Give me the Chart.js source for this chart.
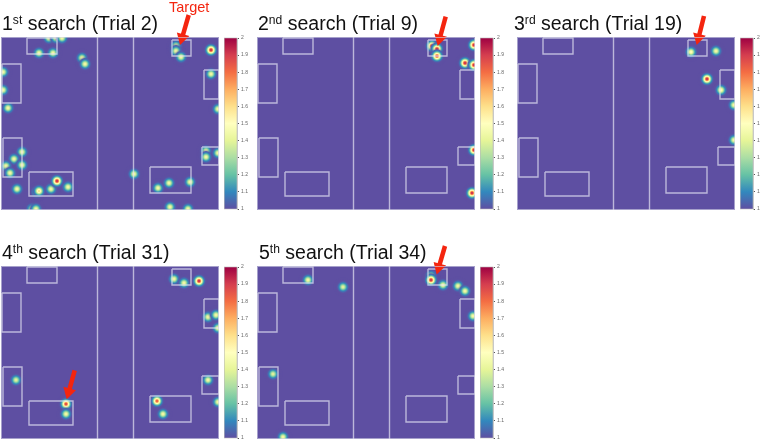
<!DOCTYPE html>
<html>
<head>
<meta charset="utf-8">
<script src="https://cdn.jsdelivr.net/npm/chart.js@4"></script>
<style>
  body { margin: 0; background: #fff; width: 760px; height: 441px; overflow: hidden; position: relative;
         font-family: "Liberation Sans", Arial, Helvetica, sans-serif; }
  canvas { position: absolute; }
  .title { position: absolute; font-size: 19.5px; line-height: 20px; white-space: nowrap; color: #111; z-index: 2; }
  .title sup { font-size: 0.62em; vertical-align: 0; position: relative; top: -0.5em; line-height: 0; }
  .target { position: absolute; font-size: 14.5px; line-height: 15px; color: #f4250f; z-index: 2; }
</style>
</head>
<body>
<script>
// field is 218 x 173 units, y counted from the top edge
var fieldW = 218, fieldH = 173;
var dividerX = [96.5, 132.5];

// white rectangles (same in every panel)
var boxX0 = [26, 1, 2, 28, 171, 203, 201, 149];
var boxX1 = [56, 20, 21, 72, 190, 218, 218, 190];
var boxY0 = [1, 27, 101, 135, 3, 33, 110, 130];
var boxY1 = [17, 66, 140, 159, 19, 62, 128, 156];

// titles
var searchNo = [1, 2, 3, 4, 5];
var suffix = ["st", "nd", "rd", "th", "th"];
var trialNo = [2, 9, 19, 31, 34];

// fixation points (x, y, peak value) per trial
var t2X = [48, 55, 61, 38, 52, 81, 84, 2, 2, 7, 21, 13, 5, 21, 9, 16, 36, 38, 50, 56, 67, 31, 35, 133, 175, 175, 180, 210, 210, 217, 205, 205, 217, 157, 168, 189, 169, 187];
var t2Y = [1, 1, 1, 16, 16, 21, 27, 35, 53, 71, 115, 122, 129, 128, 136, 152, 155, 154, 152, 144, 150, 172, 172, 137, 9, 14, 20, 13, 37, 72, 114, 120, 116, 151, 146, 145, 170, 172];
var t2Peak = [1.45, 1.45, 1.45, 1.45, 1.45, 1.45, 1.45, 1.45, 1.45, 1.45, 1.45, 1.45, 1.45, 1.45, 1.45, 1.45, 1.5, 1.6, 1.45, 1.95, 1.45, 1.45, 1.45, 1.45, 1.45, 1.45, 1.45, 1.95, 1.45, 1.45, 1.45, 1.45, 1.45, 1.45, 1.45, 1.45, 1.45, 1.45];

var t9X = [175, 180, 180, 217, 208, 217, 217, 215];
var t9Y = [9, 12, 19, 8, 26, 28, 113, 156];
var t9Peak = [1.95, 1.95, 1.9, 1.95, 1.95, 1.95, 1.95, 1.95];

var t19X = [174, 199, 190, 204, 217, 217];
var t19Y = [15, 14, 42, 53, 68, 103];
var t19Peak = [1.5, 1.45, 1.95, 1.5, 1.45, 1.45];

var t31X = [173, 183, 198, 207, 215, 217, 15, 65, 65, 156, 162, 207, 217];
var t31Y = [13, 17, 15, 51, 49, 62, 114, 138, 148, 135, 148, 114, 136];
var t31Peak = [1.45, 1.45, 1.95, 1.45, 1.45, 1.45, 1.4, 1.9, 1.45, 1.85, 1.45, 1.45, 1.45];

var t34X = [51, 86, 16, 26, 174, 174, 186, 201, 208, 216];
var t34Y = [14, 21, 108, 171, 10, 14, 19, 20, 25, 50];
var t34Peak = [1.45, 1.4, 1.4, 1.45, 1.5, 1.95, 1.45, 1.45, 1.45, 1.45];

// red arrows: tail and tip (field units)
var arrowTailX = [187.7, 188.7, 187, 73.7, 188];
var arrowTailY = [-22, -20.3, -21, 104.3, -20];
var arrowTipX = [179, 180.7, 179.7, 65.7, 179.7];
var arrowTipY = [8, 9, 8, 133.3, 8.6];

// colour bar
var cbMin = 1, cbMax = 2, cbStep = 0.1;

var panelX = [t2X, t9X, t19X, t31X, t34X];
var panelY = [t2Y, t9Y, t19Y, t31Y, t34Y];
var panelPeak = [t2Peak, t9Peak, t19Peak, t31Peak, t34Peak];

// page placement
var panelLeft = [1, 257, 517, 1, 257];
var panelTop = [37, 37, 37, 266, 266];
var titleLeft = [2, 258, 514, 2, 259];

var spectral = ["#5e4fa2", "#3288bd", "#66c2a5", "#abdda4", "#e6f598", "#ffffbf",
                "#fee08b", "#fdae61", "#f46d43", "#d53e4f", "#9e0142"];
var spectralRgb = spectral.map(function (h) {
  return [parseInt(h.substr(1, 2), 16), parseInt(h.substr(3, 2), 16), parseInt(h.substr(5, 2), 16)];
});
function colorAt(t) {
  t = Math.max(0, Math.min(1, t)) * 10;
  var i = Math.min(9, Math.floor(t)), f = t - i;
  var a = spectralRgb[i], b = spectralRgb[i + 1];
  return [a[0] + (b[0] - a[0]) * f, a[1] + (b[1] - a[1]) * f, a[2] + (b[2] - a[2]) * f];
}

var dotCache = {};
function dotImage(peak) {
  var key = peak.toFixed(2);
  if (dotCache[key]) return dotCache[key];
  var S = 24, sigma = 2.4;
  var c = document.createElement("canvas");
  c.width = c.height = S;
  var g = c.getContext("2d");
  var img = g.createImageData(S, S);
  for (var j = 0; j < S; j++) {
    for (var i = 0; i < S; i++) {
      var dx = i + 0.5 - S / 2, dy = j + 0.5 - S / 2;
      var t = (peak - 1) * Math.exp(-(dx * dx + dy * dy) / (2 * sigma * sigma));
      var rgb = colorAt(t);
      var k = 4 * (j * S + i);
      img.data[k] = rgb[0];
      img.data[k + 1] = rgb[1];
      img.data[k + 2] = rgb[2];
      img.data[k + 3] = Math.round(255 * Math.min(1, t * 30));
    }
  }
  g.putImageData(img, 0, 0);
  dotCache[key] = c;
  return c;
}

var fieldBg = {
  id: "fieldBg",
  beforeDatasetsDraw: function (chart) {
    var a = chart.chartArea, ctx = chart.ctx;
    ctx.save();
    ctx.fillStyle = "#5e4fa2";
    ctx.fillRect(a.left, a.top, a.right - a.left, a.bottom - a.top);
    ctx.restore();
  },
  afterDatasetsDraw: function (chart) {
    var a = chart.chartArea, ctx = chart.ctx;
    ctx.save();
    ctx.strokeStyle = "rgba(215,215,230,0.6)";
    ctx.lineWidth = 1;
    ctx.strokeRect(a.left + 0.5, a.top + 0.5, a.right - a.left - 1, a.bottom - a.top - 1);
    ctx.restore();
  }
};

var lineColor = "rgba(228,228,242,0.7)";

function addEl(tag, cls, left, top, html) {
  var el = document.createElement(tag);
  if (cls) el.className = cls;
  el.style.left = left + "px";
  el.style.top = top + "px";
  if (html) el.innerHTML = html;
  document.body.appendChild(el);
  return el;
}

for (var p = 0; p < 5; p++) {
  // title
  addEl("div", "title", titleLeft[p], panelTop[p] - 23.8,
    searchNo[p] + "<sup>" + suffix[p] + "</sup> search (Trial " + trialNo[p] + ")");

  // field chart
  var cv = addEl("canvas", null, panelLeft[p], panelTop[p] - 37);
  cv.width = fieldW; cv.height = fieldH + 37;
  cv.style.width = fieldW + "px"; cv.style.height = (fieldH + 37) + "px";

  var datasets = [];
  var xs = panelX[p], ys = panelY[p], pk = panelPeak[p];
  var pts = xs.map(function (x, i) { return { x: x, y: ys[i] }; });
  var imgs = pk.map(dotImage);
  datasets.push({
    data: pts, order: 2, clip: 0,
    pointStyle: imgs, pointRadius: 3, showLine: false
  });
  for (var b = 0; b < boxX0.length; b++) {
    datasets.push({
      data: [{ x: boxX0[b], y: boxY0[b] }, { x: boxX1[b], y: boxY0[b] }, { x: boxX1[b], y: boxY1[b] },
             { x: boxX0[b], y: boxY1[b] }, { x: boxX0[b], y: boxY0[b] }],
      showLine: true, pointRadius: 0, borderColor: lineColor, borderWidth: 1.4, order: 1, tension: 0
    });
  }
  for (var d = 0; d < dividerX.length; d++) {
    datasets.push({
      data: [{ x: dividerX[d], y: 0 }, { x: dividerX[d], y: fieldH }],
      showLine: true, pointRadius: 0, borderColor: lineColor, borderWidth: 1.4, order: 1
    });
  }
  // arrow
  var ax = arrowTipX[p] - arrowTailX[p], ay = arrowTipY[p] - arrowTailY[p];
  var len = Math.sqrt(ax * ax + ay * ay), ux = ax / len, uy = ay / len;
  var headR = 7.5;
  var hx = arrowTipX[p] - headR * ux, hy = arrowTipY[p] - headR * uy;
  datasets.push({
    data: [{ x: arrowTailX[p], y: arrowTailY[p] }, { x: hx, y: hy }],
    showLine: true, clip: false, order: 0,
    borderColor: "#f4250f", borderWidth: 4.5, borderCapStyle: "butt",
    pointStyle: "triangle", pointRadius: [0, headR],
    pointRotation: Math.atan2(ax, -ay) * 180 / Math.PI,
    pointBackgroundColor: "#f4250f", pointBorderColor: "#f4250f", pointBorderWidth: 0
  });

  new Chart(cv, {
    type: "scatter",
    data: { datasets: datasets },
    options: {
      responsive: false, animation: false, events: [],
      layout: { autoPadding: false, padding: { top: 37, left: 0, right: 0, bottom: 0 } },
      plugins: { legend: { display: false }, tooltip: { enabled: false } },
      scales: {
        x: { type: "linear", min: 0, max: fieldW, display: false },
        y: { type: "linear", min: 0, max: fieldH, reverse: true, display: false }
      }
    },
    plugins: [fieldBg]
  });

  // colour bar
  var cb = addEl("canvas", null, panelLeft[p] + 223, panelTop[p] - 4);
  cb.width = 34; cb.height = fieldH + 8;
  cb.style.width = "34px"; cb.style.height = (fieldH + 8) + "px";
  new Chart(cb, {
    type: "bar",
    data: {
      labels: ["c"],
      datasets: [{
        data: [[cbMin, cbMax]],
        barPercentage: 1, categoryPercentage: 1, borderWidth: 0,
        backgroundColor: function (c) {
          var a = c.chart.chartArea;
          if (!a) return spectral[0];
          var gr = c.chart.ctx.createLinearGradient(0, a.bottom, 0, a.top);
          spectral.forEach(function (col, i) { gr.addColorStop(i / 10, col); });
          return gr;
        }
      }]
    },
    options: {
      responsive: false, animation: false, events: [],
      layout: { autoPadding: false, padding: { top: 4, bottom: 4, left: 0, right: 0 } },
      plugins: { legend: { display: false }, tooltip: { enabled: false } },
      scales: {
        x: { display: false },
        y: {
          position: "right", min: cbMin, max: cbMax,
          afterFit: function (s) { s.width = 21; },
          ticks: {
            stepSize: cbStep, padding: 2, color: "#666", font: { size: 5 },
            callback: function (v) { return String(Math.round(v * 10) / 10); }
          },
          grid: { drawOnChartArea: false, drawTicks: true, tickLength: 2, color: "#555" },
          border: { display: true, color: "#aaa", width: 0.6 }
        }
      }
    },
    plugins: [{
      id: "cbFrame",
      afterDraw: function (chart) {
        var a = chart.chartArea, ctx = chart.ctx;
        ctx.save();
        ctx.strokeStyle = "#bbb";
        ctx.lineWidth = 0.6;
        ctx.strokeRect(a.left + 0.3, a.top, a.right - a.left - 0.3, a.bottom - a.top);
        ctx.restore();
      }
    }]
  });
}

addEl("div", "target", 169, 0, "Target");
</script>
</body>
</html>
